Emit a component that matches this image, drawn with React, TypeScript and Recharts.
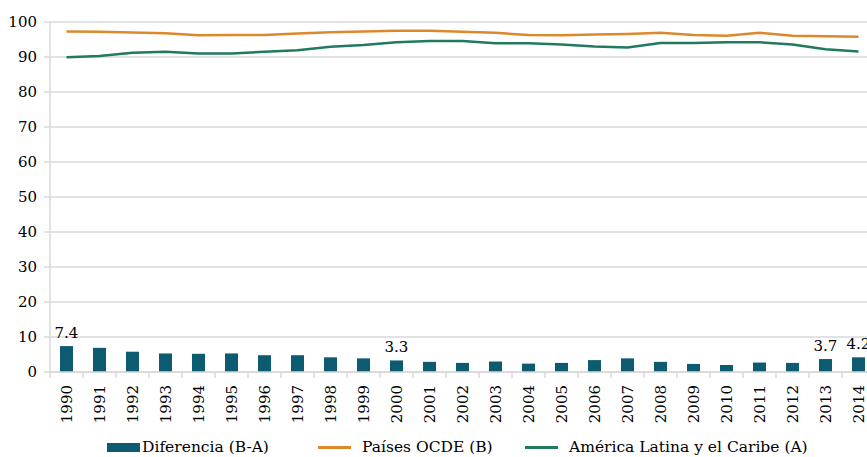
import {
  ComposedChart,
  Bar,
  Line,
  XAxis,
  YAxis,
  CartesianGrid,
  Legend,
  LabelList,
} from "recharts";

const years = [
  "1990", "1991", "1992", "1993", "1994", "1995", "1996", "1997", "1998",
  "1999", "2000", "2001", "2002", "2003", "2004", "2005", "2006", "2007",
  "2008", "2009", "2010", "2011", "2012", "2013", "2014",
];

const diferencia = [
  7.4, 6.9, 5.8, 5.3, 5.2, 5.3, 4.8, 4.8, 4.2, 3.9, 3.3, 2.9, 2.6, 3.0, 2.4,
  2.6, 3.4, 3.9, 2.9, 2.3, 2.0, 2.7, 2.6, 3.7, 4.2,
];

const ocde = [
  97.3, 97.2, 97.0, 96.8, 96.2, 96.3, 96.3, 96.7, 97.1, 97.3, 97.5, 97.5, 97.2,
  96.9, 96.3, 96.2, 96.4, 96.6, 96.9, 96.3, 96.1, 96.9, 96.1, 95.9, 95.8,
];

const americaLatina = [
  89.9, 90.3, 91.2, 91.5, 91.0, 91.0, 91.5, 91.9, 92.9, 93.4, 94.2, 94.6, 94.6,
  93.9, 93.9, 93.6, 93.0, 92.7, 94.0, 94.0, 94.2, 94.2, 93.6, 92.2, 91.6,
];

const labeledYears = ["1990", "2000", "2013", "2014"];
const yTicks = [0, 10, 20, 30, 40, 50, 60, 70, 80, 90, 100];

const BAR = "#0d5b70";
const ORANGE = "#dc892d";
const GREEN = "#1f7a5f";
const GRID = "#d9d9d9";
const FONT = "DejaVu Serif";
const FS = 15;

const data = years.map((year, i) => ({
  year,
  diferencia: diferencia[i],
  ocde: ocde[i],
  al: americaLatina[i],
}));

function YearTick(props: any) {
  const { x, y, payload } = props;
  const half = payload?.offset || 16.5;
  return (
    <g>
      <line x1={x - half} x2={x - half} y1={y} y2={y + 6} stroke={GRID} strokeWidth={1.5} />
      <text
        x={x}
        y={y}
        transform={`rotate(-90 ${x} ${y})`}
        dx={-13}
        dy={5}
        textAnchor="end"
        fontSize={FS}
        fontFamily={FONT}
        fill="#000"
      >
        {payload.value}
      </text>
    </g>
  );
}

function DiffLabel(props: any) {
  const { x, y, width, value, index } = props;
  if (!labeledYears.includes(years[index])) return null;
  return (
    <text
      x={x + width / 2}
      y={y - 8}
      textAnchor="middle"
      fontSize={FS}
      fontFamily={FONT}
      fill="#000"
    >
      {value.toFixed(1)}
    </text>
  );
}

function ChartLegend() {
  const item = { display: "flex", alignItems: "center" } as const;
  return (
    <div
      style={{
        display: "flex",
        fontFamily: FONT,
        fontSize: FS + 0.5,
        color: "#000",
        paddingLeft: 107,
        marginTop: 11,
      }}
    >
      <div style={{ ...item, width: 211 }}>
        <span style={{ width: 33, height: 9, background: BAR, marginRight: 2 }} />
        Diferencia (B-A)
      </div>
      <div style={{ ...item, width: 207 }}>
        <span style={{ width: 33, height: 3, background: ORANGE, marginRight: 11 }} />
        Países OCDE (B)
      </div>
      <div style={item}>
        <span style={{ width: 33, height: 3, background: GREEN, marginRight: 11 }} />
        América Latina y el Caribe (A)
      </div>
    </div>
  );
}

export default function App() {
  return (
    <div
      style={{
        position: "fixed",
        left: 0,
        top: 0,
        width: 867,
        height: 457,
        overflow: "hidden",
        background: "#fff",
      }}
    >
      <ComposedChart
        width={875}
        height={457}
        data={data}
        margin={{ top: 22, right: 0, bottom: 0, left: 0 }}
        barCategoryGap={0}
      >
        <CartesianGrid vertical={false} stroke={GRID} strokeWidth={1.5} />
        <XAxis
          dataKey="year"
          interval={0}
          height={55}
          tickLine={false}
          tickSize={0}
          tickMargin={0}
          axisLine={{ stroke: GRID, strokeWidth: 1.5 }}
          tick={<YearTick />}
        />
        <YAxis
          width={50}
          domain={[0, 100]}
          ticks={yTicks}
          tickSize={6}
          tickLine={{ stroke: GRID, strokeWidth: 1.5 }}
          axisLine={{ stroke: GRID, strokeWidth: 1.5 }}
          tick={{ fontSize: FS, fill: "#000", fontFamily: FONT }}
          tickMargin={7}
        />
        <Legend verticalAlign="bottom" height={30} content={<ChartLegend />} />
        <Bar dataKey="diferencia" fill={BAR} barSize={13} isAnimationActive={false}>
          <LabelList dataKey="diferencia" content={<DiffLabel />} />
        </Bar>
        <Line
          type="linear"
          dataKey="ocde"
          stroke={ORANGE}
          strokeWidth={2.5}
          dot={false}
          isAnimationActive={false}
        />
        <Line
          type="linear"
          dataKey="al"
          stroke={GREEN}
          strokeWidth={2.5}
          dot={false}
          isAnimationActive={false}
        />
      </ComposedChart>
    </div>
  );
}
